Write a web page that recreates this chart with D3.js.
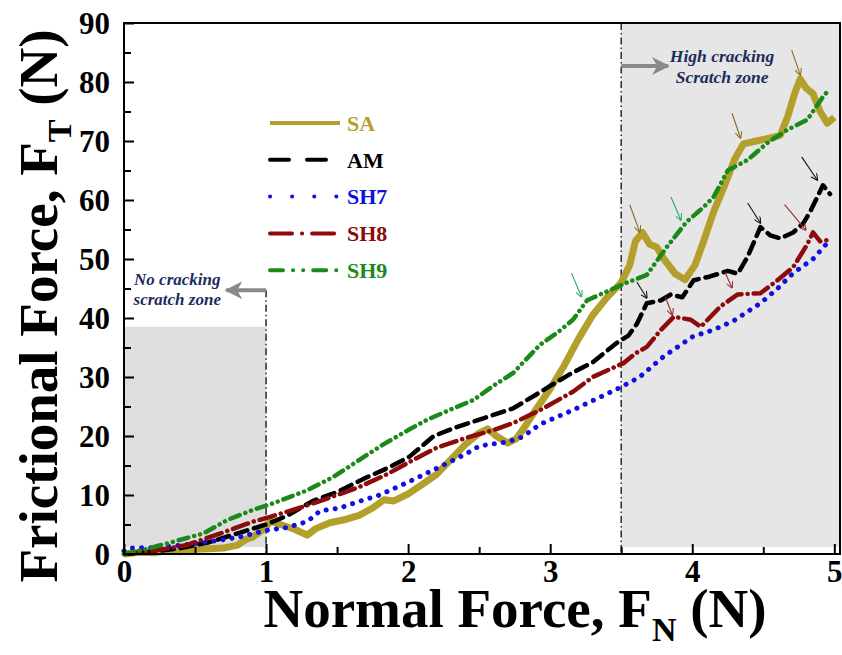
<!DOCTYPE html>
<html>
<head>
<meta charset="utf-8">
<script src="https://cdn.jsdelivr.net/npm/d3@7"></script>
<style>
  body { margin: 0; background: #fff; }
  svg text { font-family: "Times New Roman", "Liberation Serif", serif; }
</style>
</head>
<body>
<div class="canvas"></div>
<script>
// data: [normal force (N), frictional force (N)]
const SA = [[0,0],[0.1,0.3],[0.2,0.2],[0.3,0.5],[0.4,0.4],[0.5,0.8],[0.6,0.9],[0.7,1.0],[0.8,1.5],[0.86,2.5],[0.9,2.8],[0.95,3.6],[1.0,4.6],[1.03,5.6],[1.1,5.0],[1.2,4.2],[1.29,3.2],[1.35,4.3],[1.45,5.3],[1.55,5.8],[1.66,6.6],[1.75,7.8],[1.83,9.2],[1.9,9.0],[2.0,10.2],[2.1,11.8],[2.2,13.5],[2.3,16.0],[2.4,18.5],[2.5,20.5],[2.56,21.2],[2.62,20.0],[2.7,18.8],[2.76,19.5],[2.82,21.5],[2.9,24.5],[3.0,28.0],[3.1,32.0],[3.2,36.5],[3.3,40.5],[3.4,43.5],[3.5,46.0],[3.56,49.0],[3.6,53.0],[3.65,54.5],[3.7,52.5],[3.75,52.0],[3.8,50.0],[3.88,47.5],[3.95,46.5],[4.02,49.0],[4.08,53.0],[4.15,58.0],[4.22,62.0],[4.3,67.0],[4.36,69.5],[4.45,70.0],[4.55,70.5],[4.62,71.0],[4.67,74.0],[4.72,78.0],[4.76,80.5],[4.8,79.0],[4.85,78.0],[4.9,75.0],[4.95,73.0],[5.0,74.0]];
const AM = [[0,0],[0.2,0.4],[0.4,1],[0.6,2],[0.8,3.5],[1.0,5.0],[1.15,6.5],[1.22,7.5],[1.33,9],[1.5,10.5],[1.71,13],[1.85,14.5],[2.01,16.5],[2.18,20],[2.34,21.5],[2.53,23],[2.74,24.7],[2.9,27],[3.0,28.5],[3.14,30.5],[3.3,32.5],[3.47,35.8],[3.55,37],[3.61,39],[3.68,42.5],[3.78,43],[3.85,44],[3.93,43.5],[4.01,46.4],[4.12,47],[4.25,48],[4.32,47.5],[4.39,50.4],[4.48,55.4],[4.55,54],[4.62,53.5],[4.71,54.5],[4.78,56],[4.83,58],[4.87,60],[4.92,62.5],[4.97,61]];
const SH7 = [[0,0.5],[0.04,1],[0.25,1.1],[0.58,2],[0.8,2.8],[1.0,4],[1.15,4.5],[1.29,5.5],[1.38,7.3],[1.52,7.8],[1.64,8.8],[1.8,10],[2.01,12.3],[2.2,14.5],[2.41,17],[2.5,18.3],[2.7,19],[2.8,19.8],[2.93,22],[3.16,24.4],[3.3,26],[3.5,28.3],[3.63,30],[3.8,33.5],[4.0,36.8],[4.15,38],[4.29,39.5],[4.48,42.5],[4.6,45],[4.71,47.6],[4.85,50],[4.95,52.7]];
const SH8 = [[0,0],[0.2,0.5],[0.44,1.5],[0.68,3.5],[0.91,5.5],[1.03,6.3],[1.26,8],[1.5,10],[1.66,11.4],[1.85,13.5],[2.04,16],[2.2,18],[2.41,19.7],[2.6,21],[2.74,22.2],[2.93,24.4],[3.16,27.5],[3.3,30],[3.52,32.4],[3.6,34],[3.68,35.1],[3.78,38],[3.87,40.2],[3.99,39.7],[4.06,38.5],[4.2,42],[4.32,44],[4.48,44.2],[4.6,46.4],[4.71,48.6],[4.81,52.5],[4.85,54.5],[4.9,53],[4.95,53.2]];
const SH9 = [[0,0],[0.15,0.8],[0.32,1.9],[0.56,3.5],[0.73,5.8],[0.91,7.5],[1.05,8.6],[1.29,10.8],[1.47,13],[1.66,16],[1.82,18.5],[2.0,21],[2.13,22.7],[2.3,24.5],[2.46,26.1],[2.6,28.5],[2.74,30.7],[2.93,35.5],[3.05,37.5],[3.16,39.7],[3.26,43],[3.4,44.5],[3.54,46],[3.68,47.3],[3.82,52],[3.96,56.3],[4.08,58.8],[4.15,60.5],[4.25,65],[4.39,66.8],[4.53,69.7],[4.67,71.9],[4.81,73.6],[4.92,77.5],[4.96,78.6]];

const seriesNames = ['SA', 'AM', 'SH7', 'SH8', 'SH9'];
const xTicks = [0, 1, 2, 3, 4, 5];
const yTicks = [0, 10, 20, 30, 40, 50, 60, 70, 80, 90];

// crack markers: [x1, y1, x2, y2, series]
const crackArrows = [
  [3.56,59.2,3.63,54.6,'SA'],[4.28,74.7,4.34,70.5,'SA'],[4.70,85.4,4.76,81.2,'SA'],
  [3.15,47.6,3.22,43.6,'SH9'],[3.85,60.5,3.92,56.6,'SH9'],
  [3.61,46.1,3.68,43.4,'AM'],[4.39,59.5,4.48,56.1,'AM'],[4.77,67.3,4.88,63.4,'AM'],
  [3.81,43.6,3.86,40.5,'SH8'],[4.23,47.8,4.28,45.1,'SH8'],[4.65,59.2,4.80,54.9,'SH8']
];

const data = { SA, AM, SH7, SH8, SH9 };
const colors = { SA: '#b3a02c', AM: '#000000', SH7: '#1010e0', SH8: '#8c0b0b', SH9: '#1b8a1b' };
const arrowColors = { SA: '#8a6a1a', AM: '#111', SH9: '#2aa870', SH8: '#9a2a2a' };
const dash = { SA: null, AM: '12,7', SH7: '0.1,9', SH8: '16,6,0.1,6', SH9: '10,6,0.1,6,0.1,6' };
const legendDash = { SA: null, AM: '19,18', SH7: '0.1,22', SH8: '22,10,0.1,10', SH9: '13,10,0.1,10,0.1,10' };
const widths = { SA: 7, AM: 4.5, SH7: 5, SH8: 4.5, SH9: 4.5 };

const svg = d3.select('.canvas')
  .append('svg')
    .attr('width', 842)
    .attr('height', 655);

const margin = { top: 23, right: 2, bottom: 101, left: 124 };
const graphWidth = 842 - margin.left - margin.right;
const graphHeight = 655 - margin.top - margin.bottom;

const x = d3.scaleLinear().domain([0, 5.04]).range([0, graphWidth]);
const y = d3.scaleLinear().domain([0, 90]).range([graphHeight, 0]);

const graph = svg.append('g')
  .attr('transform', `translate(${margin.left}, ${margin.top})`);

// shaded zones
graph.append('rect')
  .attr('x', x(0)).attr('y', y(38.5))
  .attr('width', x(1) - x(0)).attr('height', y(1.2) - y(38.5))
  .attr('fill', '#dedede');
graph.append('rect')
  .attr('x', x(3.5)).attr('y', y(90))
  .attr('width', x(5.04) - x(3.5)).attr('height', y(1.2) - y(90))
  .attr('fill', '#e6e6e6');

// zone borders
graph.append('line')
  .attr('x1', x(1)).attr('x2', x(1)).attr('y1', y(44.7)).attr('y2', y(0))
  .attr('stroke', '#333').attr('stroke-width', 1.6).attr('stroke-dasharray', '7,3,1.5,3');
graph.append('line')
  .attr('x1', x(3.5)).attr('x2', x(3.5)).attr('y1', y(90)).attr('y2', y(0))
  .attr('stroke', '#333').attr('stroke-width', 1.6).attr('stroke-dasharray', '7,3,1.5,3');

// big gray arrows
const defs = svg.append('defs');
defs.append('marker')
  .attr('id', 'grayhead').attr('viewBox', '0 0 10 10')
  .attr('refX', 9).attr('refY', 5)
  .attr('markerWidth', 4.5).attr('markerHeight', 5)
  .attr('markerUnits', 'strokeWidth')
  .attr('orient', 'auto')
  .append('path').attr('d', 'M0,0 L10,5 L0,10 L3,5 Z').attr('fill', '#8a8a8a');

graph.append('line')
  .attr('x1', x(1)).attr('y1', y(44.7)).attr('x2', x(0.72)).attr('y2', y(44.7))
  .attr('stroke', '#8a8a8a').attr('stroke-width', 4).attr('marker-end', 'url(#grayhead)');
graph.append('line')
  .attr('x1', x(3.5)).attr('y1', y(82.7)).attr('x2', x(3.83)).attr('y2', y(82.7))
  .attr('stroke', '#8a8a8a').attr('stroke-width', 4).attr('marker-end', 'url(#grayhead)');

const zoneText = (lines, cx, ys, size) => {
  lines.forEach((t, i) => {
    graph.append('text')
      .attr('x', x(cx)).attr('y', y(ys[i]))
      .attr('text-anchor', 'middle')
      .attr('font-size', size).attr('font-weight', 'bold').attr('font-style', 'italic')
      .attr('fill', '#1c2b5e')
      .text(t);
  });
};
zoneText(['No cracking', 'scratch zone'], 0.375, [45.6, 42.2], 17);
zoneText(['High cracking', 'Scratch zone'], 4.21, [83.4, 79.9], 17.5);

// series lines
const line = d3.line().x(d => x(d[0])).y(d => y(d[1]));

seriesNames.forEach(name => {
  graph.append('path')
    .datum(data[name])
    .attr('fill', 'none')
    .attr('stroke', colors[name])
    .attr('stroke-width', widths[name])
    .attr('stroke-linecap', name === 'SA' ? 'butt' : 'round')
    .attr('stroke-linejoin', 'round')
    .attr('stroke-dasharray', dash[name])
    .attr('d', line);
});

// small crack arrows
Object.keys(arrowColors).forEach(k => {
  defs.append('marker')
    .attr('id', 'head' + k).attr('viewBox', '0 0 10 10')
    .attr('refX', 9).attr('refY', 5)
    .attr('markerWidth', 7).attr('markerHeight', 7)
    .attr('markerUnits', 'userSpaceOnUse')
    .attr('orient', 'auto')
    .append('path').attr('d', 'M0,0 L10,5 L0,10').attr('fill', 'none')
    .attr('stroke', arrowColors[k]).attr('stroke-width', 1.5);
});
graph.selectAll('.crack')
  .data(crackArrows)
  .enter().append('line')
    .attr('class', 'crack')
    .attr('x1', d => x(d[0])).attr('y1', d => y(d[1]))
    .attr('x2', d => x(d[2])).attr('y2', d => y(d[3]))
    .attr('stroke', d => arrowColors[d[4]])
    .attr('stroke-width', 1.1)
    .attr('marker-end', d => `url(#head${d[4]})`);

// legend
const legend = graph.append('g').attr('transform', `translate(${270 - margin.left}, ${123 - margin.top})`);
seriesNames.forEach((name, i) => {
  const row = legend.append('g').attr('transform', `translate(0, ${i * 36.8})`);
  row.append('line')
    .attr('x1', 0).attr('x2', 70).attr('y1', 0).attr('y2', 0)
    .attr('stroke', colors[name]).attr('stroke-width', 4)
    .attr('stroke-linecap', name === 'SA' ? 'butt' : 'round')
    .attr('stroke-dasharray', legendDash[name]);
  row.append('text')
    .attr('x', 77).attr('y', 0).attr('dy', '0.35em')
    .attr('font-size', 22).attr('font-weight', 'bold')
    .attr('fill', colors[name])
    .text(name);
});

// axes
const xAxis = d3.axisBottom(x).tickValues(xTicks).tickFormat(d3.format('d')).tickSize(-10).tickSizeOuter(0).tickPadding(6);
const xMinor = d3.axisBottom(x).tickValues([0.5, 1.5, 2.5, 3.5, 4.5]).tickSize(-7).tickSizeOuter(0).tickFormat('');
const yAxis = d3.axisLeft(y).tickValues(yTicks).tickFormat(d3.format('d')).tickSize(-10).tickSizeOuter(0).tickPadding(14);
const yMinor = d3.axisLeft(y).tickValues([5, 15, 25, 35, 45, 55, 65, 75, 85]).tickSize(-7).tickSizeOuter(0).tickFormat('');

const styleAxis = g => {
  g.selectAll('line').attr('stroke', '#000').attr('stroke-width', 2);
  g.select('.domain').remove();
  g.selectAll('text')
    .attr('font-family', '"Times New Roman", "Liberation Serif", serif')
    .attr('font-size', 31).attr('font-weight', 'bold').attr('fill', '#000');
};

graph.append('g').attr('transform', `translate(0, ${graphHeight})`).call(xMinor).call(styleAxis);
graph.append('g').attr('transform', `translate(0, ${graphHeight})`).call(xAxis).call(styleAxis);
graph.append('g').call(yMinor).call(styleAxis);
graph.append('g').call(yAxis).call(styleAxis)
  .selectAll('text').attr('dy', '0.34em');

// frame
graph.append('rect')
  .attr('x', 0).attr('y', 0)
  .attr('width', graphWidth).attr('height', graphHeight)
  .attr('fill', 'none').attr('stroke', '#000').attr('stroke-width', 2);

// axis titles
const xTitle = svg.append('text')
  .attr('x', 515).attr('y', 627)
  .attr('text-anchor', 'middle')
  .attr('font-size', 55).attr('font-weight', 'bold');
xTitle.append('tspan').text('Normal Force, F');
xTitle.append('tspan').attr('font-size', 34).attr('dy', 14).text('N');
xTitle.append('tspan').attr('dy', -14).text(' (N)');

const yTitle = svg.append('text')
  .attr('transform', 'translate(57, 306) rotate(-90)')
  .attr('text-anchor', 'middle')
  .attr('font-size', 55).attr('font-weight', 'bold');
yTitle.append('tspan').text('Frictional Force, F');
yTitle.append('tspan').attr('font-size', 34).attr('dy', 14).text('T');
yTitle.append('tspan').attr('dy', -14).text(' (N)');
</script>
</body>
</html>
